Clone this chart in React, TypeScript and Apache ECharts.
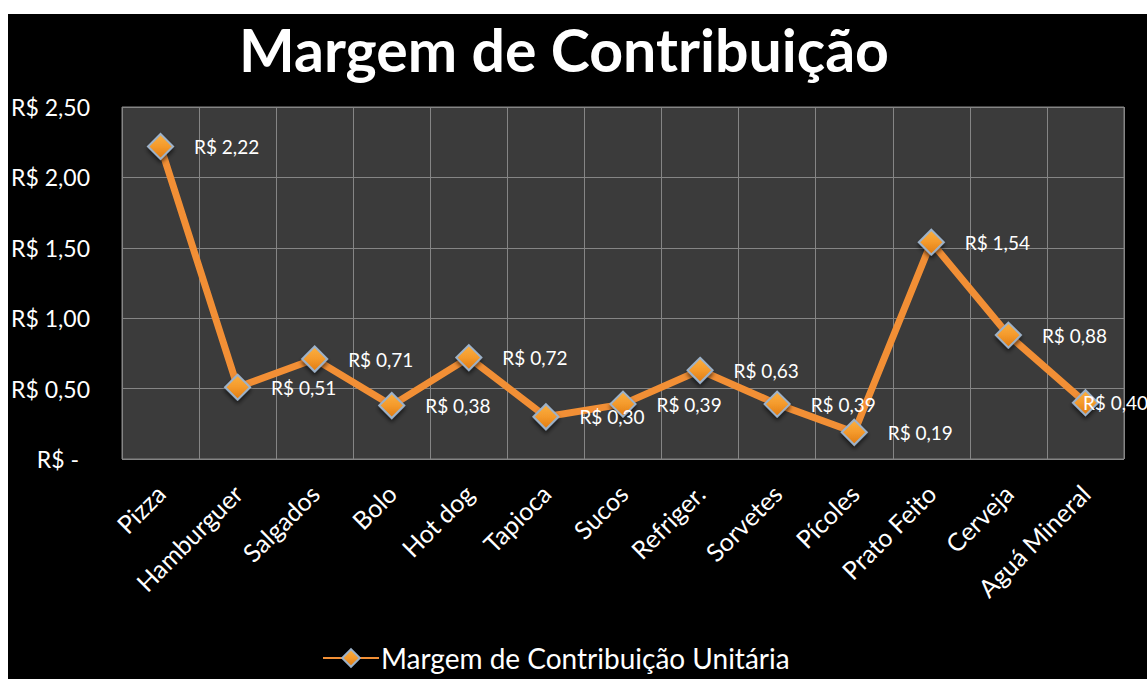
import React, { useEffect, useRef } from "react";
import * as echarts from "echarts";

const categories = [
  "Pizza", "Hamburguer", "Salgados", "Bolo", "Hot dog", "Tapioca", "Sucos",
  "Refriger.", "Sorvetes", "Pícoles", "Prato Feito", "Cerveja", "Aguá Mineral",
];
const values = [2.22, 0.51, 0.71, 0.38, 0.72, 0.3, 0.39, 0.63, 0.39, 0.19, 1.54, 0.88, 0.4];
const seriesName = "Margem de Contribuição Unitária";
const titleText = "Margem de Contribuição";

const brl = (v: number) => "R$ " + v.toFixed(2).replace(".", ",");

export default function App() {
  const ref = useRef<HTMLDivElement>(null);
  useEffect(() => {
    if (!ref.current) return;
    const chart = echarts.init(ref.current, undefined, { renderer: "svg" });
    const font = "Lato";
    const lastIdx = values.length - 1;
    chart.setOption({
      animation: false,
      backgroundColor: "#000000",
      title: {
        text: titleText,
        left: 556,
        top: 6,
        padding: 0,
        textAlign: "center",
        textStyle: {
          color: "#ffffff",
          fontSize: 59,
          lineHeight: 59,
          fontWeight: "bold",
          fontFamily: font,
        },
      },
      legend: {
        left: 314,
        top: 630,
        padding: 0,
        itemWidth: 56,
        itemHeight: 22,
        itemGap: 2,
        textStyle: { color: "#ffffff", fontSize: 28, fontFamily: font, padding: [0, 0, 0, -3] },
        data: [seriesName],
      },
      grid: {
        left: 114,
        top: 93,
        width: 1002,
        height: 352,
        show: true,
        backgroundColor: "#3b3b3b",
        borderColor: "#858585",
        borderWidth: 1,
        containLabel: false,
      },
      xAxis: {
        type: "category",
        data: categories,
        boundaryGap: true,
        axisLine: { show: false },
        axisTick: { show: false },
        splitLine: { show: true, lineStyle: { color: "#858585", width: 1 } },
        axisLabel: {
          rotate: 45,
          interval: 0,
          margin: 30,
          color: "#ffffff",
          fontSize: 25,
          fontFamily: font,
        },
      },
      yAxis: {
        type: "value",
        min: 0,
        max: 2.5,
        interval: 0.5,
        axisLine: { show: false },
        axisTick: { show: false },
        splitLine: { show: true, lineStyle: { color: "#858585", width: 1 } },
        axisLabel: {
          margin: 32,
          color: "#ffffff",
          fontSize: 23,
          fontFamily: font,
          formatter: (v: number) => (v === 0 ? "{z|R$ -}" : brl(v)),
          rich: {
            z: { color: "#ffffff", fontSize: 23, fontFamily: font, padding: [0, 11, 0, 0] },
          },
        },
      },
      series: [
        {
          name: seriesName,
          type: "line",
          data: values.map((v, i) =>
            i === lastIdx ? { value: v, label: { offset: [-36, 0] } } : v
          ),
          symbol: "diamond",
          symbolSize: 25,
          lineStyle: { color: "#f28f35", width: 7 },
          itemStyle: {
            color: new echarts.graphic.LinearGradient(0, 0, 0, 1, [
              { offset: 0, color: "#fbb040" },
              { offset: 0.5, color: "#f49a2c" },
              { offset: 1, color: "#e07a10" },
            ]),
            borderColor: "#9db2c9",
            borderWidth: 2,
            shadowColor: "rgba(0,0,0,0.6)",
            shadowBlur: 4,
            shadowOffsetY: 3,
          },
          label: {
            show: true,
            position: "right",
            distance: 20,
            color: "#ffffff",
            fontSize: 19,
            fontFamily: font,
            formatter: (p: any) => brl(p.value),
          },
        },
      ],
    });
    return () => chart.dispose();
  }, []);
  return (
    <div
      ref={ref}
      style={{ position: "absolute", left: 8, top: 14, width: 1139, height: 665 }}
    />
  );
}
